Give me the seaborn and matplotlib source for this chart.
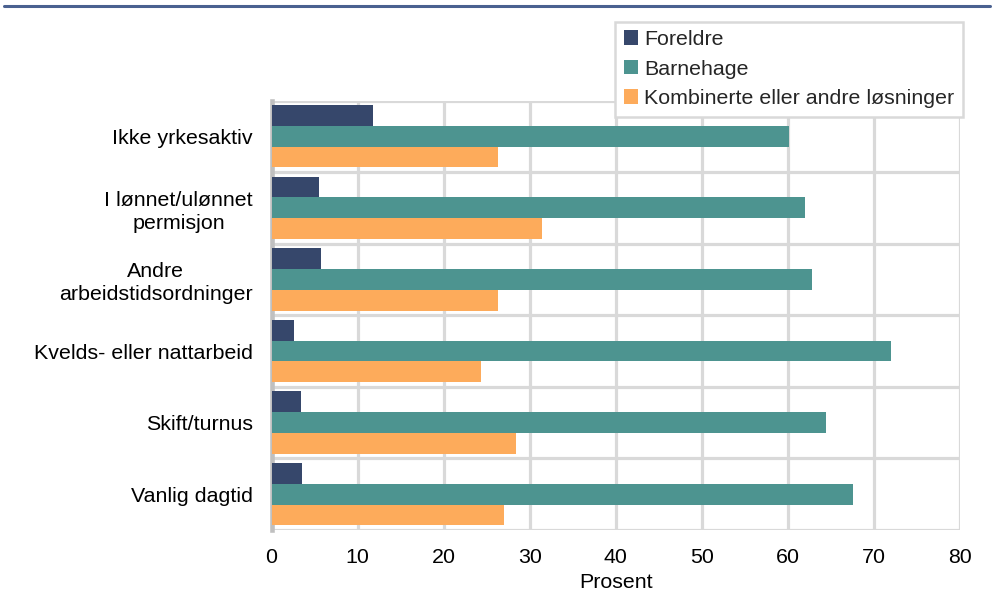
import matplotlib
matplotlib.use("Agg")
import matplotlib.pyplot as plt
from matplotlib.lines import Line2D
import seaborn as sns
import pandas as pd

categories = [
    "Ikke yrkesaktiv",
    "I lønnet/ulønnet\npermisjon",
    "Andre\narbeidstidsordninger",
    "Kvelds- eller nattarbeid",
    "Skift/turnus",
    "Vanlig dagtid",
]
series = ["Foreldre", "Barnehage", "Kombinerte eller andre løsninger"]
foreldre = [11.8, 5.5, 5.7, 2.6, 3.4, 3.6]
barnehage = [60.1, 62.0, 62.8, 72.0, 64.4, 67.6]
kombinert = [26.3, 31.4, 26.3, 24.4, 28.4, 27.0]
colors = ["#36476b", "#4d9490", "#fdab5b"]
xticks = [0, 10, 20, 30, 40, 50, 60, 70, 80]
xlabel = "Prosent"

df = pd.DataFrame({
    "kategori": categories * 3,
    "verdi": foreldre + barnehage + kombinert,
    "serie": [series[0]] * 6 + [series[1]] * 6 + [series[2]] * 6,
})

sns.set_theme(style="white")
plt.rcParams["font.family"] = ["Liberation Sans", "DejaVu Sans"]

FS = 15.4
fig = plt.figure(figsize=(9.92, 5.97), dpi=100)
W, H = 992, 597
left, right, top, bottom = 271.5, 960, 100.5, 530
ax = fig.add_axes([left / W, 1 - bottom / H, (right - left) / W, (bottom - top) / H])

sns.barplot(data=df, x="verdi", y="kategori", hue="serie", order=categories,
            hue_order=series, palette=colors, orient="h", width=0.87,
            saturation=1, ax=ax, zorder=3, linewidth=0)

ax.set_xlim(0, 80)
ax.set_ylim(5.5, -0.5)
ax.set_xticks(xticks)
ax.set_xticklabels([str(t) for t in xticks], fontsize=FS, color="#000000")
ax.set_yticks(range(len(categories)))
ax.set_yticklabels(categories, fontsize=FS, color="#000000", linespacing=1.25,
                   multialignment="center")
ax.set_yticks([i - 0.5 for i in range(len(categories) + 1)], minor=True)
ax.tick_params(axis="both", which="both", length=0)
ax.tick_params(axis="x", pad=13)
ax.tick_params(axis="y", pad=13.5)
ax.set_xlabel(xlabel, fontsize=FS, color="#000000", labelpad=4)
ax.set_ylabel("")

ax.grid(False)
ax.xaxis.grid(True, which="major", color="#d9d9d9", linewidth=2.3, zorder=0)
ax.yaxis.grid(True, which="minor", color="#d9d9d9", linewidth=2.3, zorder=0)
ax.set_axisbelow(True)
for s in ["top", "right", "bottom"]:
    ax.spines[s].set_visible(False)
ax.spines["left"].set_color("#c0c0c0")
ax.spines["left"].set_linewidth(3.3)
ax.spines["left"].set_zorder(2)

handles, labels = ax.get_legend_handles_labels()
if ax.get_legend() is not None:
    ax.get_legend().remove()
leg = fig.legend(handles, labels, loc="upper right",
                 bbox_to_anchor=(963 / W, 1 - 21.5 / H),
                 bbox_transform=fig.transFigure, borderaxespad=0,
                 fontsize=FS, frameon=True, fancybox=False,
                 handlelength=0.65, handleheight=0.65, handletextpad=0.3,
                 labelspacing=0.49, borderpad=0.4)
leg.get_frame().set_edgecolor("#d9d9d9")
leg.get_frame().set_linewidth(1.8)
leg.get_frame().set_facecolor("white")
leg.get_frame().set_alpha(1)

fig.add_artist(Line2D([4 / W, 990 / W], [1 - 6.3 / H, 1 - 6.3 / H],
                      color="#4a6190", linewidth=2.2))

fig.savefig("out.png", dpi=100, facecolor="white")
